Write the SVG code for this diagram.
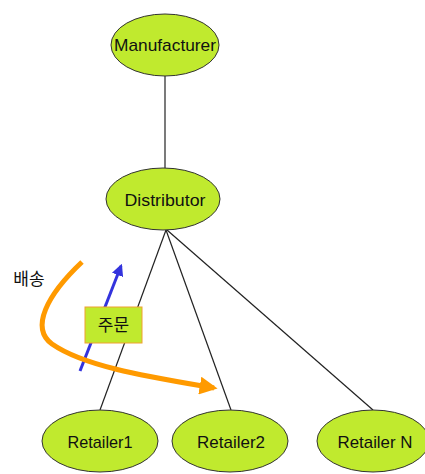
<svg xmlns="http://www.w3.org/2000/svg" width="425" height="474" viewBox="0 0 425 474">
<style>
.node{fill:#c0ea2e;stroke:#333;stroke-width:1}
.lbl{font-family:"Liberation Sans","Noto Sans CJK KR",sans-serif;font-size:17px;fill:#111;text-anchor:middle;dominant-baseline:central}
.edge{stroke:#222;stroke-width:1.2;fill:none}
</style>
<defs>
<marker id="ao" viewBox="0 0 10 10" refX="8" refY="5" markerWidth="3.6" markerHeight="3.6" orient="auto" markerUnits="strokeWidth"><path d="M0,0 L10,5 L0,10 z" fill="#ff9a00"/></marker>
<marker id="ab" viewBox="0 0 10 10" refX="8" refY="5" markerWidth="4" markerHeight="4" orient="auto" markerUnits="strokeWidth"><path d="M0,0 L10,5 L0,10 z" fill="#3333dd"/></marker>
</defs>
<rect width="425" height="474" fill="#fff"/>
<g id="connectors">
<line class="edge" x1="165" y1="76" x2="165" y2="168"/>
<line class="edge" x1="166" y1="230" x2="100" y2="410"/>
<line class="edge" x1="166" y1="230" x2="231" y2="410"/>
<line class="edge" x1="167" y1="230" x2="373" y2="410"/>
</g>
<g id="manufacturer"><ellipse class="node" cx="165" cy="45" rx="54" ry="31"/><text class="lbl" x="165" y="45" textLength="102" lengthAdjust="spacingAndGlyphs">Manufacturer</text></g>
<g id="distributor"><ellipse class="node" cx="163" cy="199" rx="57" ry="31"/><text class="lbl" x="165" y="200" textLength="81" lengthAdjust="spacingAndGlyphs">Distributor</text></g>
<g id="retailer1"><ellipse class="node" cx="100" cy="441" rx="58" ry="31"/><text class="lbl" x="100" y="442" textLength="65" lengthAdjust="spacingAndGlyphs">Retailer1</text></g>
<g id="retailer2"><ellipse class="node" cx="230" cy="441" rx="58" ry="31"/><text class="lbl" x="231" y="442" textLength="68" lengthAdjust="spacingAndGlyphs">Retailer2</text></g>
<g id="retailerN"><ellipse class="node" cx="373" cy="441" rx="56" ry="31"/><text class="lbl" x="375" y="442" textLength="75" lengthAdjust="spacingAndGlyphs">Retailer N</text></g>
<g id="order-arrow"><line x1="80" y1="371" x2="121" y2="266" stroke="#3333dd" stroke-width="3" marker-end="url(#ab)"/></g>
<g id="delivery-arrow"><path d="M82,262 C47,295 30,328 52,344 C85,367 150,377 214,388" fill="none" stroke="#ff9a00" stroke-width="5" marker-end="url(#ao)"/></g>
<g id="order-label"><rect x="85" y="307" width="57" height="36" fill="#c0ea2e" stroke="#f0a030" stroke-width="1"/><text class="lbl" x="113.5" y="325" font-size="19">주문</text></g>
<g id="delivery-label"><text class="lbl" x="29" y="279">배송</text></g>
</svg>
